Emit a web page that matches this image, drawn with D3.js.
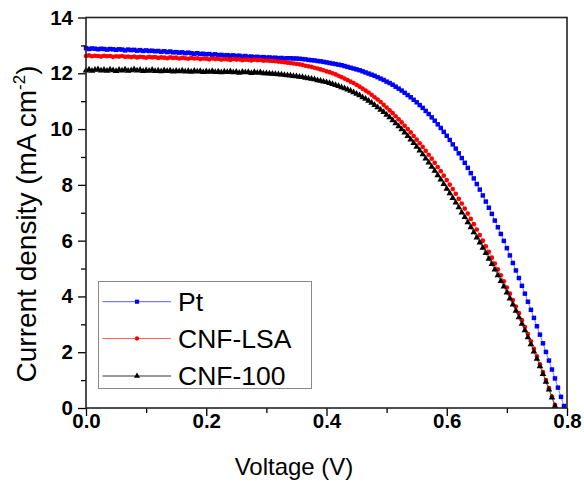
<!DOCTYPE html>
<html>
<head>
<meta charset="utf-8">
<script src="https://cdn.jsdelivr.net/npm/d3@7"></script>
<style>
  html, body { margin: 0; padding: 0; background: #fff; }
  svg { display: block; }
  text { font-family: "Liberation Sans", Arial, sans-serif; }
</style>
</head>
<body>
<svg id="chart" width="584" height="481"></svg>
<script>
// ---------------- DATA ----------------
const voltage = [
  0.000,0.005,0.010,0.015,0.020,0.025,0.030,0.035,0.040,0.045,
  0.050,0.055,0.060,0.065,0.070,0.075,0.080,0.085,0.090,0.095,
  0.100,0.105,0.110,0.115,0.120,0.125,0.130,0.135,0.140,0.145,
  0.150,0.155,0.160,0.165,0.170,0.175,0.180,0.185,0.190,0.195,
  0.200,0.205,0.210,0.215,0.220,0.225,0.230,0.235,0.240,0.245,
  0.250,0.255,0.260,0.265,0.270,0.275,0.280,0.285,0.290,0.295,
  0.300,0.305,0.310,0.315,0.320,0.325,0.330,0.335,0.340,0.345,
  0.350,0.355,0.360,0.365,0.370,0.375,0.380,0.385,0.390,0.395,
  0.400,0.405,0.410,0.415,0.420,0.425,0.430,0.435,0.440,0.445,
  0.450,0.455,0.460,0.465,0.470,0.475,0.480,0.485,0.490,0.495,
  0.500,0.505,0.510,0.515,0.520,0.525,0.530,0.535,0.540,0.545,
  0.550,0.555,0.560,0.565,0.570,0.575,0.580,0.585,0.590,0.595,
  0.600,0.605,0.610,0.615,0.620,0.625,0.630,0.635,0.640,0.645,
  0.650,0.655,0.660,0.665,0.670,0.675,0.680,0.685,0.690,0.695,
  0.700,0.705,0.710,0.715,0.720,0.725,0.730,0.735,0.740,0.745,
  0.750,0.755,0.760,0.765,0.770,0.775,0.780,0.785,0.790,0.795
];

const ptCurrent = [
  12.90,12.87,12.89,12.88,12.86,12.88,12.87,12.85,12.87,12.86,
  12.84,12.86,12.85,12.82,12.85,12.83,12.84,12.81,12.83,12.80,
  12.82,12.80,12.81,12.79,12.80,12.77,12.79,12.76,12.78,12.75,
  12.76,12.74,12.75,12.72,12.74,12.72,12.70,12.72,12.69,12.70,
  12.68,12.69,12.66,12.68,12.65,12.66,12.64,12.65,12.63,12.64,
  12.62,12.63,12.60,12.62,12.59,12.60,12.58,12.59,12.57,12.58,
  12.56,12.57,12.55,12.56,12.54,12.55,12.53,12.54,12.54,12.53,
  12.53,12.52,12.51,12.50,12.48,12.47,12.46,12.44,12.43,12.41,
  12.39,12.37,12.35,12.33,12.31,12.29,12.26,12.23,12.20,12.17,
  12.14,12.11,12.07,12.03,11.99,11.95,11.91,11.86,11.81,11.76,
  11.70,11.65,11.59,11.52,11.45,11.38,11.30,11.22,11.14,11.05,
  10.96,10.86,10.76,10.65,10.54,10.42,10.30,10.17,10.04,9.90,
  9.76,9.61,9.45,9.30,9.13,8.96,8.79,8.61,8.42,8.23,
  8.03,7.83,7.62,7.40,7.18,6.96,6.72,6.48,6.24,5.99,
  5.73,5.47,5.20,4.93,4.66,4.38,4.10,3.81,3.52,3.23,
  2.93,2.63,2.32,2.01,1.70,1.38,1.06,0.73,0.40,0.07
];

const lsaCurrent = [
  12.62,12.64,12.61,12.63,12.62,12.60,12.63,12.61,12.62,12.59,
  12.61,12.60,12.62,12.59,12.60,12.58,12.60,12.57,12.59,12.58,
  12.56,12.59,12.57,12.58,12.55,12.57,12.56,12.54,12.57,12.55,
  12.56,12.53,12.55,12.54,12.52,12.55,12.53,12.54,12.51,12.53,
  12.52,12.50,12.53,12.51,12.52,12.49,12.51,12.50,12.48,12.51,
  12.49,12.50,12.47,12.49,12.48,12.46,12.49,12.47,12.48,12.45,
  12.46,12.45,12.44,12.43,12.42,12.41,12.40,12.38,12.37,12.35,
  12.34,12.32,12.30,12.27,12.25,12.23,12.20,12.17,12.14,12.11,
  12.07,12.04,12.00,11.96,11.91,11.86,11.81,11.76,11.70,11.65,
  11.59,11.52,11.45,11.38,11.31,11.23,11.14,11.06,10.97,10.87,
  10.77,10.67,10.57,10.46,10.35,10.24,10.12,10.00,9.88,9.75,
  9.62,9.49,9.36,9.22,9.08,8.94,8.79,8.64,8.49,8.33,
  8.17,8.01,7.85,7.68,7.50,7.33,7.15,6.97,6.78,6.59,
  6.40,6.20,6.00,5.80,5.60,5.39,5.18,4.97,4.76,4.54,
  4.32,4.10,3.87,3.64,3.40,3.15,2.90,2.65,2.39,2.12,
  1.85,1.57,1.29,1.00,0.71,0.41,0.11
];

const c100Current = [
  12.10,12.13,12.09,12.12,12.14,12.10,12.12,12.09,12.13,12.11,
  12.08,12.12,12.10,12.13,12.09,12.11,12.14,12.10,12.12,12.08,
  12.11,12.09,12.12,12.08,12.10,12.07,12.11,12.08,12.10,12.06,
  12.09,12.07,12.10,12.06,12.08,12.05,12.09,12.06,12.08,12.04,
  12.07,12.05,12.08,12.04,12.06,12.03,12.06,12.04,12.07,12.03,
  12.05,12.02,12.05,12.03,12.04,12.01,12.04,12.02,12.03,12.00,
  12.00,11.99,11.98,11.97,11.96,11.95,11.94,11.93,11.92,11.90,
  11.89,11.87,11.86,11.84,11.82,11.80,11.78,11.75,11.73,11.70,
  11.68,11.65,11.61,11.58,11.54,11.50,11.46,11.42,11.37,11.32,
  11.26,11.21,11.14,11.08,11.01,10.94,10.86,10.78,10.69,10.61,
  10.51,10.42,10.31,10.21,10.10,9.99,9.87,9.75,9.62,9.50,
  9.36,9.23,9.09,8.94,8.80,8.65,8.50,8.34,8.19,8.03,
  7.86,7.70,7.53,7.36,7.19,7.01,6.84,6.66,6.48,6.30,
  6.11,5.93,5.74,5.55,5.35,5.16,4.96,4.76,4.55,4.35,
  4.14,3.92,3.71,3.48,3.25,3.02,2.78,2.53,2.28,2.02,
  1.76,1.49,1.22,0.94,0.66,0.37,0.07
];

const seriesNames = ["Pt", "CNF-LSA", "CNF-100"];
const xMajorTicks = [0, 0.2, 0.4, 0.6, 0.8];
const xMinorTicks = [0.1, 0.3, 0.5, 0.7];
const yMajorTicks = [0, 2, 4, 6, 8, 10, 12, 14];
const yMinorTicks = [1, 3, 5, 7, 9, 11, 13];
const xTitle = "Voltage (V)";

// ---------------- LAYOUT ----------------
const svg = d3.select("#chart");
const L = 86, R = 567, T = 17.5, B = 408;
const x = d3.scaleLinear().domain([0, 0.8]).range([L, R]);
const y = d3.scaleLinear().domain([0, 14]).range([B, T]);

svg.append("rect").attr("width", 584).attr("height", 481).attr("fill", "#fff");

const series = [
  { name: seriesNames[0], values: ptCurrent, color: "#0000ff", symbol: d3.symbolSquare, size: 20, line: "#5a5aff" },
  { name: seriesNames[1], values: lsaCurrent, color: "#ff0000", symbol: d3.symbolCircle, size: 17, line: "#ff6060" },
  { name: seriesNames[2], values: c100Current, color: "#000000", symbol: d3.symbolTriangle, size: 19, line: "#333" }
];

// data
const plot = svg.append("g");
series.forEach(s => {
  const pts = s.values.map((j, i) => [voltage[i], j]);
  plot.append("path")
    .datum(pts)
    .attr("fill", "none")
    .attr("stroke", s.line)
    .attr("stroke-width", 0.8)
    .attr("d", d3.line().x(d => x(d[0])).y(d => y(d[1])));
  plot.selectAll(null)
    .data(pts)
    .enter().append("path")
    .attr("transform", d => `translate(${x(d[0])},${y(d[1])})`)
    .attr("d", d3.symbol().type(s.symbol).size(s.size))
    .attr("fill", s.color);
});

// axes
const fontTick = "bold 20.5px 'Liberation Sans', Arial, sans-serif";

const xAxis = svg.append("g").attr("transform", `translate(0,${B})`)
  .call(d3.axisBottom(x).tickValues(xMajorTicks).tickFormat(d3.format(".1f")).tickSize(8).tickSizeOuter(0));
xAxis.select(".domain").remove();
xAxis.selectAll(".tick line").attr("stroke", "#000").attr("stroke-width", 1.3);
xAxis.selectAll(".tick text").attr("y", 5).attr("fill", "#000")
  .style("font", fontTick);

const xMinor = svg.append("g").attr("transform", `translate(0,${B})`)
  .call(d3.axisBottom(x).tickValues(xMinorTicks).tickFormat("").tickSize(5).tickSizeOuter(0));
xMinor.select(".domain").remove();
xMinor.selectAll(".tick line").attr("stroke", "#000").attr("stroke-width", 1.3);

const yAxis = svg.append("g").attr("transform", `translate(${L},0)`)
  .call(d3.axisLeft(y).tickValues(yMajorTicks).tickFormat(d3.format("d")).tickSize(8).tickSizeOuter(0));
yAxis.select(".domain").remove();
yAxis.selectAll(".tick line").attr("stroke", "#000").attr("stroke-width", 1.3);
yAxis.selectAll(".tick text").attr("x", -13).attr("fill", "#000")
  .style("font", fontTick);

const yMinor = svg.append("g").attr("transform", `translate(${L},0)`)
  .call(d3.axisLeft(y).tickValues(yMinorTicks).tickFormat("").tickSize(5).tickSizeOuter(0));
yMinor.select(".domain").remove();
yMinor.selectAll(".tick line").attr("stroke", "#000").attr("stroke-width", 1.3);

// frame
svg.append("rect")
  .attr("x", L).attr("y", T).attr("width", R - L).attr("height", B - T)
  .attr("fill", "none").attr("stroke", "#222").attr("stroke-width", 1.6);

// titles
svg.append("text")
  .attr("x", 294).attr("y", 475)
  .attr("text-anchor", "middle")
  .style("font-size", "24px").attr("fill", "#000")
  .text(xTitle);

const yt = svg.append("text")
  .attr("transform", "translate(36,224) rotate(-90)")
  .attr("text-anchor", "middle")
  .style("font-size", "28px").attr("fill", "#000");
yt.append("tspan").text("Current density (mA cm");
yt.append("tspan").attr("dy", -11).style("font-size", "17px").text("-2");
yt.append("tspan").attr("dy", 11).text(")");

// legend
const lg = svg.append("g");
lg.append("rect")
  .attr("x", 98.5).attr("y", 281.5).attr("width", 213).attr("height", 107)
  .attr("fill", "#fff").attr("stroke", "#8a8a8a").attr("stroke-width", 1);
const rowY = [301.7, 338.5, 376];
series.forEach((s, i) => {
  lg.append("line")
    .attr("x1", 102.5).attr("x2", 171).attr("y1", rowY[i]).attr("y2", rowY[i])
    .attr("stroke", s.line).attr("stroke-width", 1);
  lg.append("path")
    .attr("transform", `translate(137,${rowY[i]})`)
    .attr("d", d3.symbol().type(s.symbol).size(s.size * 0.85))
    .attr("fill", s.color);
  lg.append("text")
    .attr("x", 178).attr("y", rowY[i] + 9.3)
    .style("font-size", "26.5px").attr("fill", "#000")
    .text(s.name);
});
</script>
</body>
</html>
